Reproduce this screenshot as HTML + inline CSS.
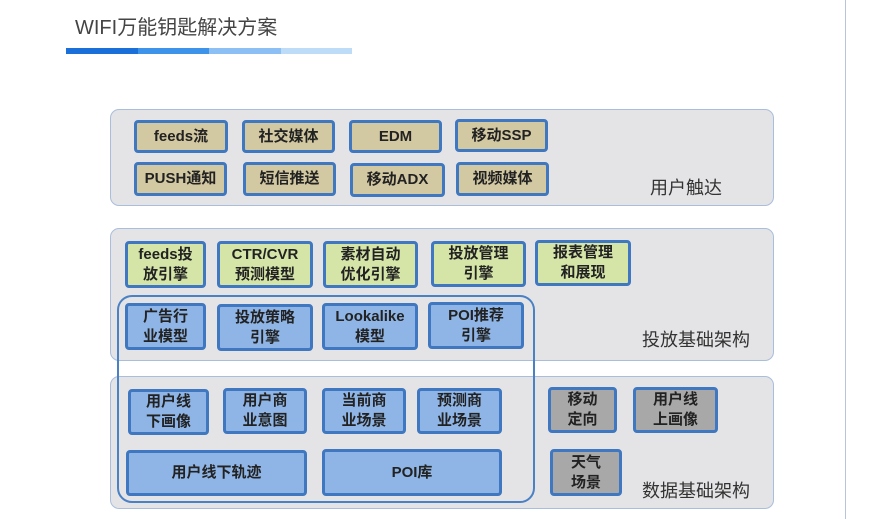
<!DOCTYPE html>
<html><head><meta charset="utf-8"><style>
body{margin:0;width:880px;height:519px;background:#fff;position:relative;overflow:hidden;font-family:"Liberation Sans","Noto Sans CJK SC",sans-serif;}
.a{position:absolute;box-sizing:border-box;}
.p{background:#e4e4e6;border:1.5px solid #a9bedc;border-radius:9px;}
.b{border:3px solid #3f78c0;border-radius:4px;display:flex;align-items:center;justify-content:center;text-align:center;font-weight:bold;color:#222;font-size:15px;line-height:20px;}
.t{background:#d2c8a1;}
.g{background:#d5e5a8;}
.u{background:#8fb5e6;}
.r{background:#a8a8a8;}
.l{font-size:18px;color:#333;}
</style></head><body>
<div class="a" style="left:75px;top:11px;font-size:20px;color:#444;">WIFI万能钥匙解决方案</div>
<div class="a" style="left:66px;top:48px;width:72px;height:6px;background:#1a6fd8"></div>
<div class="a" style="left:138px;top:48px;width:71px;height:6px;background:#3d92ea"></div>
<div class="a" style="left:209px;top:48px;width:72px;height:6px;background:#8cc0f4"></div>
<div class="a" style="left:281px;top:48px;width:71px;height:6px;background:#bcdcf8"></div>
<div class="a" style="left:845px;top:0;width:1px;height:519px;background:#b8c4d8"></div>

<div class="a p" style="left:110px;top:109px;width:664px;height:97px"></div>
<div class="a p" style="left:110px;top:228px;width:664px;height:133px"></div>
<div class="a p" style="left:110px;top:376px;width:664px;height:133px"></div>

<div class="a b t" style="left:134px;top:120px;width:94px;height:33px">feeds流</div>
<div class="a b t" style="left:242px;top:120px;width:93px;height:33px">社交媒体</div>
<div class="a b t" style="left:349px;top:120px;width:93px;height:33px">EDM</div>
<div class="a b t" style="left:455px;top:119px;width:93px;height:33px">移动SSP</div>
<div class="a b t" style="left:134px;top:162px;width:93px;height:34px">PUSH通知</div>
<div class="a b t" style="left:243px;top:162px;width:93px;height:34px">短信推送</div>
<div class="a b t" style="left:350px;top:163px;width:95px;height:34px">移动ADX</div>
<div class="a b t" style="left:456px;top:162px;width:93px;height:34px">视频媒体</div>
<div class="a l" style="left:650px;top:174px">用户触达</div>

<div class="a b g" style="left:125px;top:241px;width:81px;height:47px">feeds投<br>放引擎</div>
<div class="a b g" style="left:217px;top:241px;width:96px;height:47px">CTR/CVR<br>预测模型</div>
<div class="a b g" style="left:323px;top:241px;width:95px;height:47px">素材自动<br>优化引擎</div>
<div class="a b g" style="left:431px;top:241px;width:95px;height:46px">投放管理<br>引擎</div>
<div class="a b g" style="left:535px;top:240px;width:96px;height:46px">报表管理<br>和展现</div>

<div class="a b u" style="left:125px;top:303px;width:81px;height:47px">广告行<br>业模型</div>
<div class="a b u" style="left:217px;top:304px;width:96px;height:47px">投放策略<br>引擎</div>
<div class="a b u" style="left:322px;top:303px;width:96px;height:47px">Lookalike<br>模型</div>
<div class="a b u" style="left:428px;top:302px;width:96px;height:47px">POI推荐<br>引擎</div>
<div class="a l" style="left:642px;top:326px">投放基础架构</div>

<div class="a b u" style="left:128px;top:389px;width:81px;height:46px">用户线<br>下画像</div>
<div class="a b u" style="left:223px;top:388px;width:84px;height:46px">用户商<br>业意图</div>
<div class="a b u" style="left:322px;top:388px;width:84px;height:46px">当前商<br>业场景</div>
<div class="a b u" style="left:417px;top:388px;width:85px;height:46px">预测商<br>业场景</div>
<div class="a b u" style="left:126px;top:450px;width:181px;height:46px">用户线下轨迹</div>
<div class="a b u" style="left:322px;top:449px;width:180px;height:47px">POI库</div>

<div class="a b r" style="left:548px;top:387px;width:69px;height:46px">移动<br>定向</div>
<div class="a b r" style="left:633px;top:387px;width:85px;height:46px">用户线<br>上画像</div>
<div class="a b r" style="left:550px;top:449px;width:72px;height:47px">天气<br>场景</div>
<div class="a l" style="left:642px;top:477px">数据基础架构</div>

<div class="a" style="left:117px;top:295px;width:418px;height:208px;border:2.5px solid #4a80c4;border-radius:15px;"></div>
</body></html>
